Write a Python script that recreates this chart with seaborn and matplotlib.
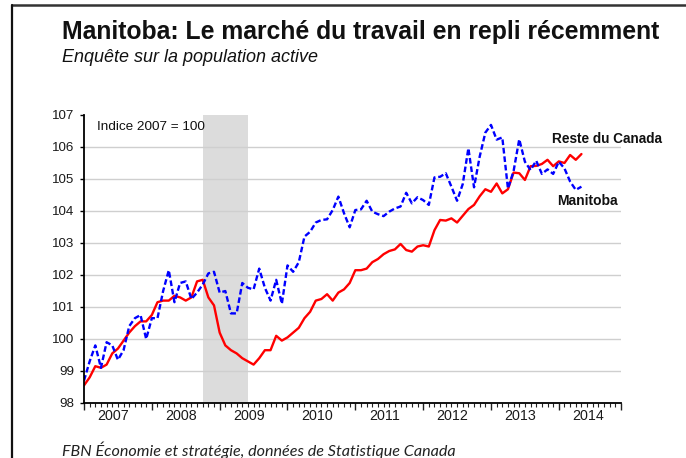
import numpy as np
import pandas as pd
import matplotlib
matplotlib.use("Agg")
import matplotlib.pyplot as plt
from matplotlib.lines import Line2D
import seaborn as sns

# Monthly employment index (2007 = 100), January 2007 to May 2014
reste_du_canada = [
    98.55, 98.8, 99.15, 99.1, 99.2, 99.55, 99.7, 99.95, 100.2, 100.4, 100.55, 100.55,
    100.75, 101.15, 101.2, 101.2, 101.35, 101.3, 101.2, 101.3, 101.8, 101.85, 101.3, 101.05,
    100.2, 99.8, 99.65, 99.55, 99.4, 99.3, 99.2, 99.4, 99.65, 99.65, 100.1, 99.95,
    100.05, 100.2, 100.35, 100.65, 100.85, 101.2, 101.25, 101.4, 101.2, 101.45, 101.55, 101.75,
    102.15, 102.15, 102.2, 102.4, 102.5, 102.65, 102.75, 102.8, 102.97, 102.78, 102.73, 102.89,
    102.93, 102.89, 103.4, 103.72, 103.7, 103.77, 103.64, 103.85, 104.06, 104.19, 104.46, 104.68,
    104.6, 104.86, 104.55, 104.68, 105.2, 105.18, 104.97, 105.4, 105.41, 105.47, 105.6, 105.4,
    105.55, 105.5, 105.75, 105.6, 105.78,
]
manitoba = [
    98.7, 99.3, 99.8, 99.1, 99.9, 99.8, 99.35, 99.65, 100.4, 100.65, 100.75, 100.0,
    100.65, 100.65, 101.5, 102.15, 101.15, 101.75, 101.8, 101.25, 101.45, 101.7, 102.05, 102.1,
    101.45, 101.5, 100.8, 100.8, 101.75, 101.6, 101.55, 102.2, 101.6, 101.2, 101.85, 101.1,
    102.3, 102.1, 102.4, 103.2, 103.35, 103.64, 103.72, 103.74, 104.03, 104.45, 103.93, 103.49,
    104.03, 104.05, 104.32, 103.98, 103.9, 103.84, 103.98, 104.08, 104.14, 104.57, 104.24, 104.43,
    104.34, 104.19, 105.05, 105.07, 105.18, 104.76, 104.32, 104.84, 105.96, 104.74, 105.7, 106.45,
    106.69, 106.23, 106.3, 104.7, 105.25, 106.24, 105.54, 105.28, 105.57, 105.16, 105.3, 105.16,
    105.54, 105.33, 104.92, 104.66, 104.76,
]
years = [2007, 2008, 2009, 2010, 2011, 2012, 2013, 2014]
y_ticks = [98, 99, 100, 101, 102, 103, 104, 105, 106, 107]
recession = (21, 29)  # months since January 2007

months = np.arange(len(reste_du_canada))
df = pd.DataFrame({"mois": months,
                   "Reste du Canada": reste_du_canada,
                   "Manitoba": manitoba})
long = df.melt(id_vars="mois", var_name="serie", value_name="indice")

sns.set_theme(style="white")
plt.rcParams["font.family"] = ["Liberation Sans", "DejaVu Sans"]

W, H = 686, 458
fig = plt.figure(figsize=(W / 100, H / 100), dpi=100)
fig.patch.set_facecolor("white")

left, right, top, bottom = 84, 621, 115, 403
ax = fig.add_axes([left / W, 1 - bottom / H, (right - left) / W, (bottom - top) / H])

ax.axvspan(*recession, color="#dcdcdc", lw=0, zorder=0.3)

sns.lineplot(data=long, x="mois", y="indice", hue="serie", style="serie",
             hue_order=["Reste du Canada", "Manitoba"],
             style_order=["Reste du Canada", "Manitoba"],
             palette={"Reste du Canada": "#ff0000", "Manitoba": "#0000ff"},
             dashes={"Reste du Canada": "", "Manitoba": (2.4, 1.2)},
             linewidth=1.7, legend=False, ax=ax)

ax.set_xlim(0, 95)
ax.set_ylim(98, 107)
ax.set_xlabel("")
ax.set_ylabel("")

# y axis
ax.set_yticks(y_ticks)
ax.set_yticklabels([str(t) for t in y_ticks], fontsize=9.6, color="#1a1a1a")
ax.tick_params(axis="y", which="major", direction="out", length=3, width=1,
               color="black", pad=4, left=True)
ax.set_axisbelow(True)
ax.yaxis.grid(True, color="#cfcfcf", lw=1)
ax.xaxis.grid(False)
gl = ax.yaxis.get_gridlines()
gl[0].set_visible(False)
gl[-1].set_visible(False)

# x axis: monthly minor ticks, longer ticks at each year start
ax.set_xticks([12 * k for k in range(8)] + [95])
ax.set_xticklabels([""] * 9)
ax.set_xticks(np.arange(0, 96), minor=True)
ax.tick_params(axis="x", which="major", direction="out", length=5, width=1,
               color="#222222", bottom=True)
ax.tick_params(axis="x", which="minor", direction="out", length=3, width=0.8,
               color="#222222", bottom=True)
for k, yr in enumerate(years):
    ax.text(12 * k + 5.2, -0.022, str(yr), transform=ax.get_xaxis_transform(),
            ha="center", va="top", fontsize=10.3, color="#1a1a1a")

for s in ["top", "right"]:
    ax.spines[s].set_visible(False)
for s in ["left", "bottom"]:
    ax.spines[s].set_color("black")
    ax.spines[s].set_linewidth(1.3)

fig.text(97 / W, 1 - 127 / H, "Indice 2007 = 100", fontsize=9.7, va="center",
         ha="left", color="#111111")
fig.text(552 / W, 1 - 139 / H, "Reste du Canada", fontsize=9.8, fontweight="bold",
         va="center", ha="left", color="#111111")
fig.text(557 / W, 1 - 201 / H, "Manitoba", fontsize=10, fontweight="bold",
         va="center", ha="left", color="#111111")

# headings and source
fig.text(62 / W, 1 - 32 / H, "Manitoba: Le marché du travail en repli récemment",
         fontsize=17.8, fontweight="bold", va="center", ha="left", color="#111111")
fig.text(62 / W, 1 - 57 / H, "Enquête sur la population active", fontsize=13,
         fontstyle="italic", va="center", ha="left", color="#111111")
fig.text(62 / W, 1 - 450 / H, "FBN Économie et stratégie, données de Statistique Canada",
         fontsize=11.6, fontstyle="italic", family=["Lato", "DejaVu Sans"],
         va="center", ha="left", color="#222222")

# frame lines
fig.add_artist(Line2D([12 / W, 1], [1 - 5 / H, 1 - 5 / H], color="#333333", lw=1.8,
                      transform=fig.transFigure))
fig.add_artist(Line2D([12 / W, 12 / W], [0, 1 - 5 / H], color="#111111", lw=1.6,
                      transform=fig.transFigure))

fig.savefig("out.png", dpi=100)
